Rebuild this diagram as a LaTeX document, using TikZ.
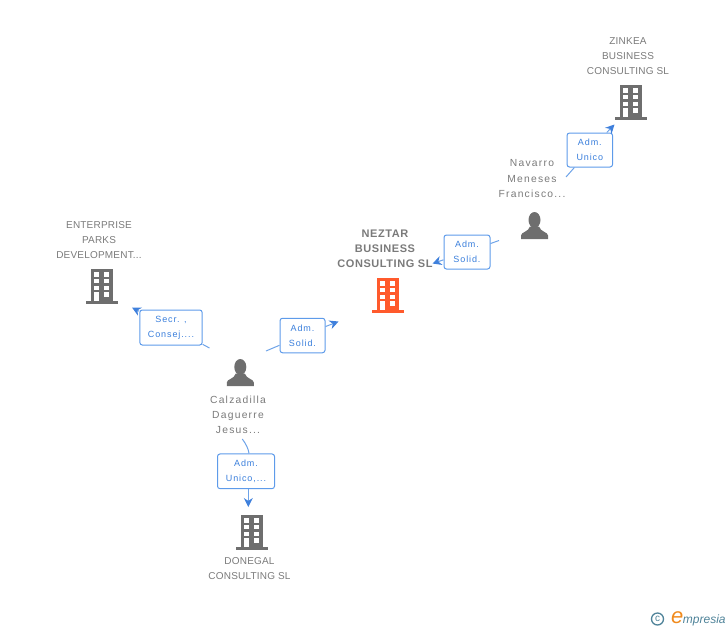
\documentclass[tikz,border=0pt]{standalone}
\usepackage{fontspec}
\setmainfont{Liberation Sans}
\newfontfamily\orgfont[LetterSpace=2]{Liberation Sans}
\newfontfamily\mainorgfont[LetterSpace=5]{Liberation Sans}
\newfontfamily\personfont[LetterSpace=12]{Liberation Sans}
\newfontfamily\rolefont[LetterSpace=10]{Liberation Sans}
\usetikzlibrary{arrows.meta, positioning}
\definecolor{greyicon}{HTML}{6E6E6E}
\definecolor{greytext}{HTML}{7A7A7A}
\definecolor{redicon}{HTML}{FF5A2C}
\definecolor{linkblue}{HTML}{6EA3E8}
\definecolor{tipblue}{HTML}{3F80DC}
\definecolor{boxblue}{HTML}{5E9BEA}
\definecolor{roleblue}{HTML}{3A7FDC}
\definecolor{logoblue}{HTML}{4F8399}
\definecolor{logoorange}{HTML}{F08A1D}
\tikzset{
	spot/.style={inner sep=0pt, minimum size=1pt}, % Punto donde va cada icono
	orgtext/.style={text=greytext, align=center, font=\orgfont\fontsize{10}{15}\selectfont},
	maintext/.style={text=greytext, align=center, font=\mainorgfont\bfseries\fontsize{11}{15}\selectfont},
	persontext/.style={text=greytext, align=center, font=\personfont\fontsize{10.3}{15.2}\selectfont},
	rolebox/.style={draw=boxblue, line width=1pt, rounded corners=2.5pt, fill=white, text=roleblue,
		align=center, inner sep=0pt, font=\rolefont\fontsize{9}{15}\selectfont},
	link/.style={draw=linkblue, line width=1pt},
	tiplink/.style={link, -{Stealth[length=9pt, width=9pt, color=tipblue]}},
	pics/building/.style={code={
		\fill[#1] (-11,-17) rectangle (11.3,15);
		\fill[#1] (-15.7,14.5) rectangle (16,17.5);
		\foreach \wy in {-13.7,-7,-0.4} {
			\fill[white] (-7.7,\wy) rectangle (-2.7,\wy+4.4);
			\fill[white] (2.3,\wy) rectangle (7.3,\wy+4.4);
		}
		\fill[white] (-7.7,6) rectangle (-2.7,15);
		\fill[white] (2.3,6) rectangle (7.3,10.6);
	}},
	pics/person/.style={code={
		\fill[greyicon] (0,-5.5) ellipse (6 and 8);
		\fill[greyicon] (-13.5,13.5) -- (-13.5,10) .. controls (-13.5,6.5) and (-6,6.5) .. (-4.5,1)
			-- (4.5,1) .. controls (6,6.5) and (13.5,6.5) .. (13.5,10) -- (13.5,13.5) -- cycle;
	}}
}

\begin{document}
\begin{tikzpicture}[x=1pt, y=-1pt]
	\useasboundingbox (0,0) rectangle (728,630);

	% Iconos
	\node[spot] (zinkea) at (631,102) {};
	\node[spot] (neztar) at (388,295) {};
	\node[spot] (parks) at (102,286) {};
	\node[spot] (donegal) at (252,532) {};
	\node[spot] (navarro) at (534.5,225.5) {};
	\node[spot] (calzadilla) at (240.3,372.5) {};
	\pic at (zinkea) {building=greyicon};
	\pic at (neztar) {building=redicon};
	\pic at (parks) {building=greyicon};
	\pic at (donegal) {building=greyicon};
	\pic at (navarro) {person};
	\pic at (calzadilla) {person};

	% Textos
	\node[orgtext] (zinkeatext) at (628,56) {ZINKEA\\BUSINESS\\CONSULTING SL};
	\node[maintext] (neztartext) at (385,248.5) {NEZTAR\\BUSINESS\\CONSULTING SL};
	\node[orgtext] (parkstext) at (99,240.5) {ENTERPRISE\\PARKS\\DEVELOPMENT...};
	\node[orgtext] (donegaltext) at (249.5,568.5) {DONEGAL\\CONSULTING SL};
	\node[persontext] (navarrotext) at (532,178.5) {Navarro\\Meneses\\Francisco...};
	\node[persontext] (calzadillatext) at (238,414.7) {Calzadilla\\Daguerre\\Jesus...};

	% Cargos
	\node[rolebox, minimum width=45.5pt, minimum height=34pt] (unicobox) at (589.8,150) {Adm.\\Unico};
	\node[rolebox, minimum width=46pt, minimum height=34pt] (solidbox) at (467,252) {Adm.\\Solid.};
	\node[rolebox, minimum width=45pt, minimum height=34.5pt] (solidtwobox) at (302.5,335.5) {Adm.\\Solid.};
	\node[rolebox, minimum width=62.3pt, minimum height=35pt] (secrbox) at (171,327.5) {Secr. ,\\Consej....};
	\node[rolebox, minimum width=57pt, minimum height=34.7pt] (unicocobox) at (246,471.3) {Adm.\\Unico,...};

	% Extremos libres
	\coordinate (navarroout) at (566,177);
	\coordinate (zinkeain) at (614.5,124.5);
	\coordinate (navarroleft) at (499,240.5);
	\coordinate (neztarin) at (432.5,263.5);
	\coordinate (calzadillaright) at (266,351);
	\coordinate (neztarleft) at (338.5,321.5);
	\coordinate (calzadillaleft) at (209.5,348);
	\coordinate (parksin) at (132,307.5);
	\coordinate (calzadillaunder) at (242.3,439);
	\coordinate (donegalin) at (248.3,507);

	% Conexiones
	\draw[link] (navarroout) -- (unicobox);
	\draw[tiplink] (unicobox) -- (zinkeain);
	\draw[link] (navarroleft) -- (solidbox);
	\draw[tiplink] (solidbox) -- (neztarin);
	\draw[link] (calzadillaright) -- (solidtwobox);
	\draw[tiplink] (solidtwobox) -- (neztarleft);
	\draw[link] (calzadillaleft) -- (secrbox);
	\draw[tiplink] (secrbox) -- (parksin);
	\draw[link] (calzadillaunder) .. controls (246,444) and (248.5,449) .. ([xshift=3pt]unicocobox.north);
	\draw[tiplink] ([xshift=2.3pt]unicocobox.south) -- (donegalin);

	% Marca
	\node[circle, draw=logoblue, line width=1.3pt, text=logoblue, inner sep=0pt, minimum size=12pt, font=\fontsize{10}{10}\selectfont] (copyright) at (657.5,619) {c};
	\node[anchor=base west, inner sep=0pt, text=logoblue, font=\itshape\fontsize{12}{12}\selectfont] (brand) at (671,623) {\textcolor{logoorange}{\fontsize{22}{22}\selectfont e}\hspace{-0.5pt}mpresia};
\end{tikzpicture}
\end{document}
